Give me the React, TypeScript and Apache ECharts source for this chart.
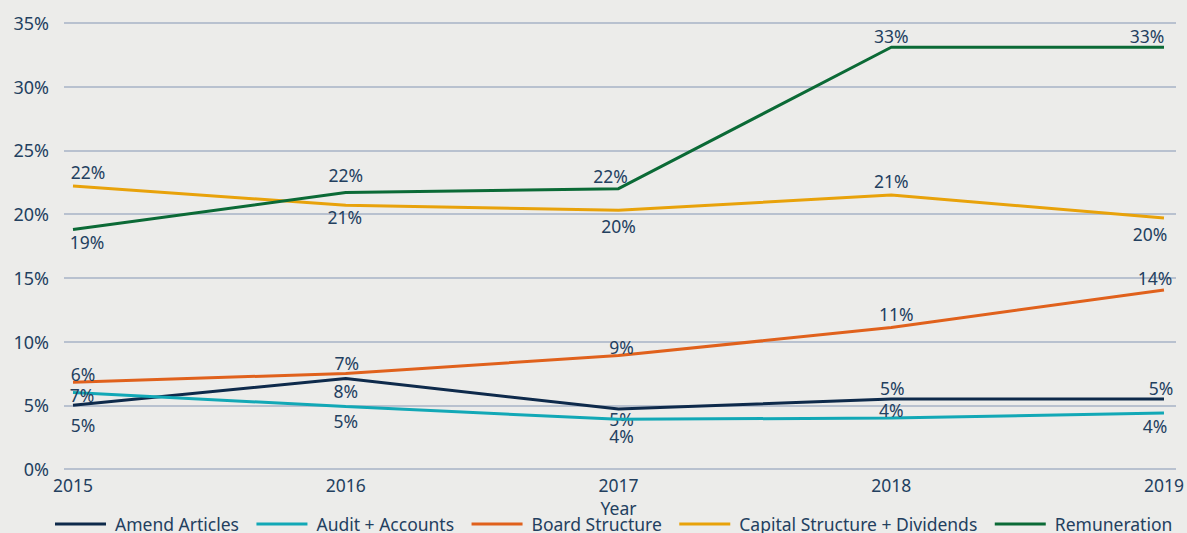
import React, { useEffect, useRef } from "react";
import * as echarts from "echarts";

const YEARS = ["2015", "2016", "2017", "2018", "2019"];
const Y_TICKS_MAX = 35;

const SERIES_NAMES = [
  "Amend Articles",
  "Audit + Accounts",
  "Board Structure",
  "Capital Structure + Dividends",
  "Remuneration",
];

const AMEND = [5.0, 7.1, 4.7, 5.5, 5.5];
const AUDIT = [6.0, 4.9, 3.9, 4.0, 4.4];
const BOARD = [6.8, 7.5, 8.9, 11.1, 14.05];
const CAPITAL = [22.2, 20.7, 20.3, 21.5, 19.7];
const REMUN = [18.8, 21.7, 22.0, 33.1, 33.1];

const AMEND_LABELS = ["5%", "8%", "5%", "5%", "5%"];
const AUDIT_LABELS = ["7%", "5%", "4%", "4%", "4%"];
const BOARD_LABELS = ["6%", "7%", "9%", "11%", "14%"];
const CAPITAL_LABELS = ["22%", "21%", "20%", "21%", "20%"];
const REMUN_LABELS = ["19%", "22%", "22%", "33%", "33%"];

// label placement styles: [position, dx, dy]
type LP = [string, number, number];
const AMEND_LP: LP[] = [["bottom", 10, 6], ["bottom", 0, -2], ["bottom", 3, -4], ["top", 1, 3], ["top", -3, 3]];
const AUDIT_LP: LP[] = [["top", 9, 16], ["bottom", 0, 0], ["bottom", 3, 3], ["top", 0, 6], ["bottom", -9, -1]];
const BOARD_LP: LP[] = [["top", 10, 6], ["top", 1, 4], ["top", 3, 5], ["top", 5, 0], ["top", -9, 2]];
const CAPITAL_LP: LP[] = [["top", 15, 0], ["bottom", -1, -2], ["bottom", 0, 2], ["top", 0, 0], ["bottom", -14, 2]];
const REMUN_LP: LP[] = [["bottom", 14, -1], ["top", 0, -3], ["top", -8, 1], ["top", 0, 3], ["top", -17, 3]];

const COLORS = ["#0e2a4b", "#12a8b6", "#e0611c", "#e8a20a", "#0b6a36"];
const TEXT = "#23405f";
const FONT = "Noto Sans";

export default function App() {
  const ref = useRef<HTMLDivElement>(null);
  useEffect(() => {
    if (!ref.current) return;
    const chart = echarts.init(ref.current, null, { renderer: "svg" });
    const build = (vals: number[], labels: string[], lp: LP[]) =>
      vals.map((v, i) => ({
        value: v,
        label: {
          show: true,
          position: lp[i][0],
          formatter: labels[i],
        },
      }));
    const all = [
      build(AMEND, AMEND_LABELS, AMEND_LP),
      build(AUDIT, AUDIT_LABELS, AUDIT_LP),
      build(BOARD, BOARD_LABELS, BOARD_LP),
      build(CAPITAL, CAPITAL_LABELS, CAPITAL_LP),
      build(REMUN, REMUN_LABELS, REMUN_LP),
    ];
    const lps = [AMEND_LP, AUDIT_LP, BOARD_LP, CAPITAL_LP, REMUN_LP];
    chart.setOption({
      animation: false,
      backgroundColor: "#ececea",
      textStyle: { fontFamily: FONT },
      grid: [
        { left: 64, right: 11, top: 23, bottom: 64 },
        { left: 73, right: 20, top: 23, bottom: 64 },
      ],
      xAxis: [
        { type: "value", gridIndex: 0, show: false, min: 0, max: 1 },
        {
          type: "category",
          gridIndex: 1,
          data: YEARS,
          boundaryGap: false,
          axisLine: { show: false },
          axisTick: { show: false },
          axisLabel: { color: TEXT, fontSize: 17.5, fontFamily: FONT, margin: 7 },
          name: "Year",
          nameLocation: "middle",
          nameGap: 30,
          nameTextStyle: { color: TEXT, fontSize: 17.5, fontFamily: FONT },
        },
      ],
      yAxis: [
        {
          type: "value",
          gridIndex: 0,
          min: 0,
          max: Y_TICKS_MAX,
          interval: 5,
          axisLine: { show: false },
          axisTick: { show: false },
          axisLabel: {
            color: TEXT,
            fontSize: 18,
            fontFamily: FONT,
            margin: 15,
            formatter: "{value}%",
          },
          splitLine: { lineStyle: { color: "#b8c1cf", width: 2 } },
        },
        { type: "value", gridIndex: 1, min: 0, max: Y_TICKS_MAX, show: false, splitLine: { show: false } },
      ],
      legend: {
        top: 510,
        left: 50,
        itemWidth: 51,
        itemHeight: 3,
        itemGap: 17.5,
        icon: "rect",
        textStyle: { color: TEXT, fontSize: 17.5, fontFamily: FONT, padding: [0, 0, 0, 4] },
        data: SERIES_NAMES,
      },
      series: SERIES_NAMES.map((name, i) => ({
        name,
        type: "line",
        xAxisIndex: 1,
        yAxisIndex: 1,
        data: all[i],
        color: COLORS[i],
        showSymbol: true,
        symbol: "circle",
        symbolSize: 0.01,
        lineStyle: { width: 3, color: COLORS[i] },
        itemStyle: { color: COLORS[i] },
        label: { show: true, color: TEXT, fontSize: 17.5, fontFamily: FONT },
        labelLayout: (p: any) => ({
          dx: lps[i][p.dataIndex][1],
          dy: lps[i][p.dataIndex][2],
          hideOverlap: false,
        }),
        z: 2 + i,
      })),
    });
    return () => chart.dispose();
  }, []);
  return <div ref={ref} style={{ width: 1187, height: 533, position: "absolute", left: 0, top: 0 }} />;
}
